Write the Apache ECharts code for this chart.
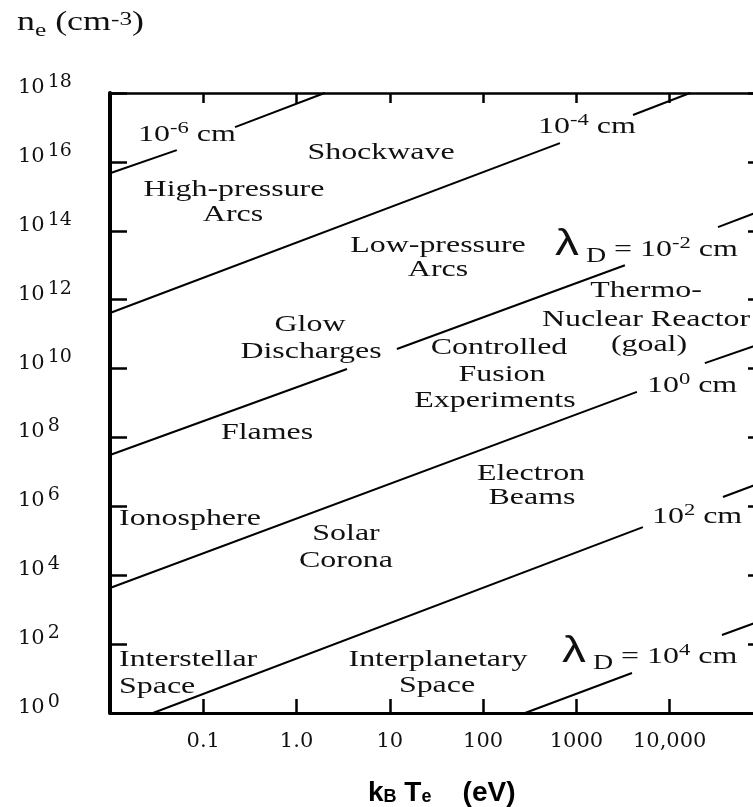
<!DOCTYPE html>
<html>
<head>
<meta charset="utf-8">
<style>
html,body{margin:0;padding:0;background:#fff;overflow:hidden;}
#c{width:780px;height:807px;}
</style>
<script src="https://cdn.jsdelivr.net/npm/echarts/dist/echarts.min.js"></script>
</head>
<body>
<div id="c"></div>
<script>
// ---------------- data ----------------
// x: electron temperature k_B T_e (eV); y: electron density n_e (cm^-3)
const temperatureTickLabels = { '-1': '0.1', '0': '1.0', '1': '10', '2': '100', '3': '1000', '4': '10,000' };
const densityExponentLabels = [0, 2, 4, 6, 8, 10, 12, 14, 16, 18];

// Debye-length lines, [T (eV), n (cm^-3)]; null = gap left for the line label
const debye_1e_6cm = [[0.01, 4.7e15], [0.052, 2.2e16], null, [0.219, 1.02e17], [2.0, 1e18]];
const debye_1e_4cm = [[0.01, 4.1e11], [665, 3.5e16], null, [4040, 2.3e17], [16500, 1e18]];
const debye_1e_2cm = [[0.01, 3.1e7], [3.47, 9.7e9], null, [11.9, 3.7e10], [3310, 1.0e13], null, [32900, 1.28e14], [1e5, 4.0e14]];
const debye_1e0cm  = [[0.01, 4.25e3], [4450, 2.1e9], null, [23800, 1.44e10], [1e5, 5.5e10]];
const debye_1e2cm  = [[0.0289, 1], [5160, 2.5e5], null, [37200, 1.86e6], [1e5, 5.1e6]];
const debye_1e4cm  = [[281, 1], [3940, 14.5], null, [36300, 184], [1e5, 500]];

// ---------------- annotations (layout) ----------------
const centeredLabels = [
  ['Shockwave', 381, 153], ['High-pressure', 234, 190], ['Arcs', 233, 215],
  ['Low-pressure', 438, 246], ['Arcs', 438, 270],
  ['Thermo-', 646, 291], ['Nuclear Reactor', 646, 320], ['(goal)', 649, 345],
  ['Glow', 310, 325], ['Discharges', 311, 352],
  ['Controlled', 499, 348], ['Fusion', 502, 375], ['Experiments', 495, 401],
  ['Electron', 531, 474], ['Beams', 532, 498],
  ['Flames', 267, 433], ['Solar', 346, 534], ['Corona', 346, 561],
  ['Interplanetary', 438, 660], ['Space', 437, 686]
];
const leftLabels = [
  ['Ionosphere', 119, 519], ['Interstellar', 119, 660], ['Space', 119, 687],
  ['{n|10}{s|-6}{n| cm}', 138, 135],
  ['{n|10}{s|-4}{n| cm}', 538, 127],
  ['{l|λ}{d| D}{n| = 10}{s|-2}{n| cm}', 555, 250],
  ['{n|10}{s|0}{n| cm}', 647, 386],
  ['{n|10}{s|2}{n| cm}', 652, 517],
  ['{l|λ}{d| D}{n| = 10}{s|4}{n| cm}', 562, 657],
  ['{t|n}{e|e}{t| (cm}{ts|-3}{t|)}', 17, 23]
];

// ---------------- chart ----------------
const SX = 1.33;
const INK = '#111';
const serif = 'Liberation Serif';
function tok(size, family, pad) {
  const o = { fontSize: size, fontFamily: family, fill: INK, color: INK, verticalAlign: 'middle' };
  if (pad) o.padding = pad;
  return o;
}
const serifRich = {
  n: tok(24, serif),
  s: tok(17, serif, [0, 0, 13, 0]),
  d: tok(21, serif, [13, 0, 0, 0]),
  l: tok(36, 'Liberation Sans', [0, 0, 9, 0]),
  t: tok(27, serif),
  e: tok(19, serif, [17, 0, 0, 0]),
  ts: tok(19, serif, [0, 0, 6, 0])
};

function textEl(t, x, y, align) {
  return {
    type: 'text', x: x, y: y, scaleX: SX, scaleY: 1, silent: true,
    style: {
      text: t, rich: serifRich, fontSize: 24, fontFamily: serif, fill: INK,
      textAlign: align, align: align, textVerticalAlign: 'middle', verticalAlign: 'middle'
    }
  };
}

const graphics = [];
centeredLabels.forEach(a => graphics.push(textEl(a[0], a[1], a[2], 'center')));
leftLabels.forEach(a => graphics.push(textEl(a[0], a[1], a[2], 'left')));
// x-axis title
graphics.push({
  type: 'text', x: 368, y: 793, silent: true,
  style: {
    text: '{a|k}{b|B}{a| T}{b|e}{a|    (eV)}',
    fill: '#000', textAlign: 'left', align: 'left', textVerticalAlign: 'middle', verticalAlign: 'middle',
    rich: {
      a: { fontSize: 28, fontWeight: 'bold', fontFamily: 'Liberation Sans', fill: '#000', color: '#000', verticalAlign: 'middle' },
      b: { fontSize: 18, fontWeight: 'bold', fontFamily: 'Liberation Sans', fill: '#000', color: '#000', verticalAlign: 'middle', padding: [8, 0, 0, 0] }
    }
  }
});

function toSeries(points) {
  const segs = [];
  let cur = [];
  points.forEach(p => {
    if (p === null) { if (cur.length) segs.push(cur); cur = []; }
    else cur.push(p);
  });
  if (cur.length) segs.push(cur);
  return segs.map(seg => ({
    type: 'line', data: seg, xAxisIndex: 0, yAxisIndex: 0,
    symbol: 'none', silent: true, clip: true,
    lineStyle: { color: '#000', width: 2 }
  }));
}
const series = [].concat(
  toSeries(debye_1e_6cm), toSeries(debye_1e_4cm), toSeries(debye_1e_2cm),
  toSeries(debye_1e0cm), toSeries(debye_1e2cm), toSeries(debye_1e4cm)
);

const tickFont = 'DejaVu Serif';
const xCommon = {
  type: 'log', logBase: 10, min: 0.01, max: 1e5, interval: 1,
  splitLine: { show: false }, minorTick: { show: false }
};
const yCommon = {
  type: 'log', logBase: 10, min: 1, max: 1e18, interval: 2,
  splitLine: { show: false }, minorTick: { show: false }
};

const option = {
  animation: false,
  backgroundColor: '#fff',
  grid: { left: 110, top: 93, width: 653, height: 620, containLabel: false, outerBoundsMode: 'none' },
  xAxis: [
    Object.assign({}, xCommon, {
      position: 'bottom',
      axisLine: { show: true, onZero: false, lineStyle: { color: '#000', width: 3 } },
      axisTick: { show: true, inside: true, length: 14, lineStyle: { color: '#000', width: 2.5 } },
      axisLabel: {
        show: true, margin: 18, fontFamily: tickFont, fontSize: 21, color: INK,
        showMinLabel: false, showMaxLabel: false,
        formatter: v => {
          const e = Math.round(Math.log10(v));
          return temperatureTickLabels[String(e)] || '';
        }
      }
    }),
    Object.assign({}, xCommon, {
      position: 'top',
      axisLine: { show: true, onZero: false, lineStyle: { color: '#000', width: 2.5 } },
      axisTick: { show: true, inside: true, length: 10, lineStyle: { color: '#000', width: 2.5 } },
      axisLabel: { show: false }
    })
  ],
  yAxis: [
    Object.assign({}, yCommon, {
      position: 'left',
      axisLine: { show: true, onZero: false, lineStyle: { color: '#000', width: 4 } },
      axisTick: { show: true, inside: true, length: 17, lineStyle: { color: '#000', width: 2.5 } },
      axisLabel: {
        show: true, align: 'left', margin: 92, padding: [0, 0, 11, 0],
        formatter: v => {
          const e = Math.round(Math.log10(v));
          if (densityExponentLabels.indexOf(e) < 0) return '';
          return '{n|10}{s|' + e + '}';
        },
        rich: {
          n: { fontFamily: tickFont, fontSize: 21, color: INK, verticalAlign: 'middle' },
          s: { fontFamily: tickFont, fontSize: 19, color: INK, verticalAlign: 'middle', padding: [0, 0, 11, 3] }
        }
      }
    }),
    Object.assign({}, yCommon, {
      position: 'right',
      axisLine: { show: true, onZero: false, lineStyle: { color: '#000', width: 3 } },
      axisTick: { show: true, inside: true, length: 15, lineStyle: { color: '#000', width: 2.5 } },
      axisLabel: { show: false }
    })
  ],
  series: series,
  graphic: graphics
};

const chart = echarts.init(document.getElementById('c'), null, { renderer: 'canvas' });
chart.setOption(option);
</script>
</body>
</html>
